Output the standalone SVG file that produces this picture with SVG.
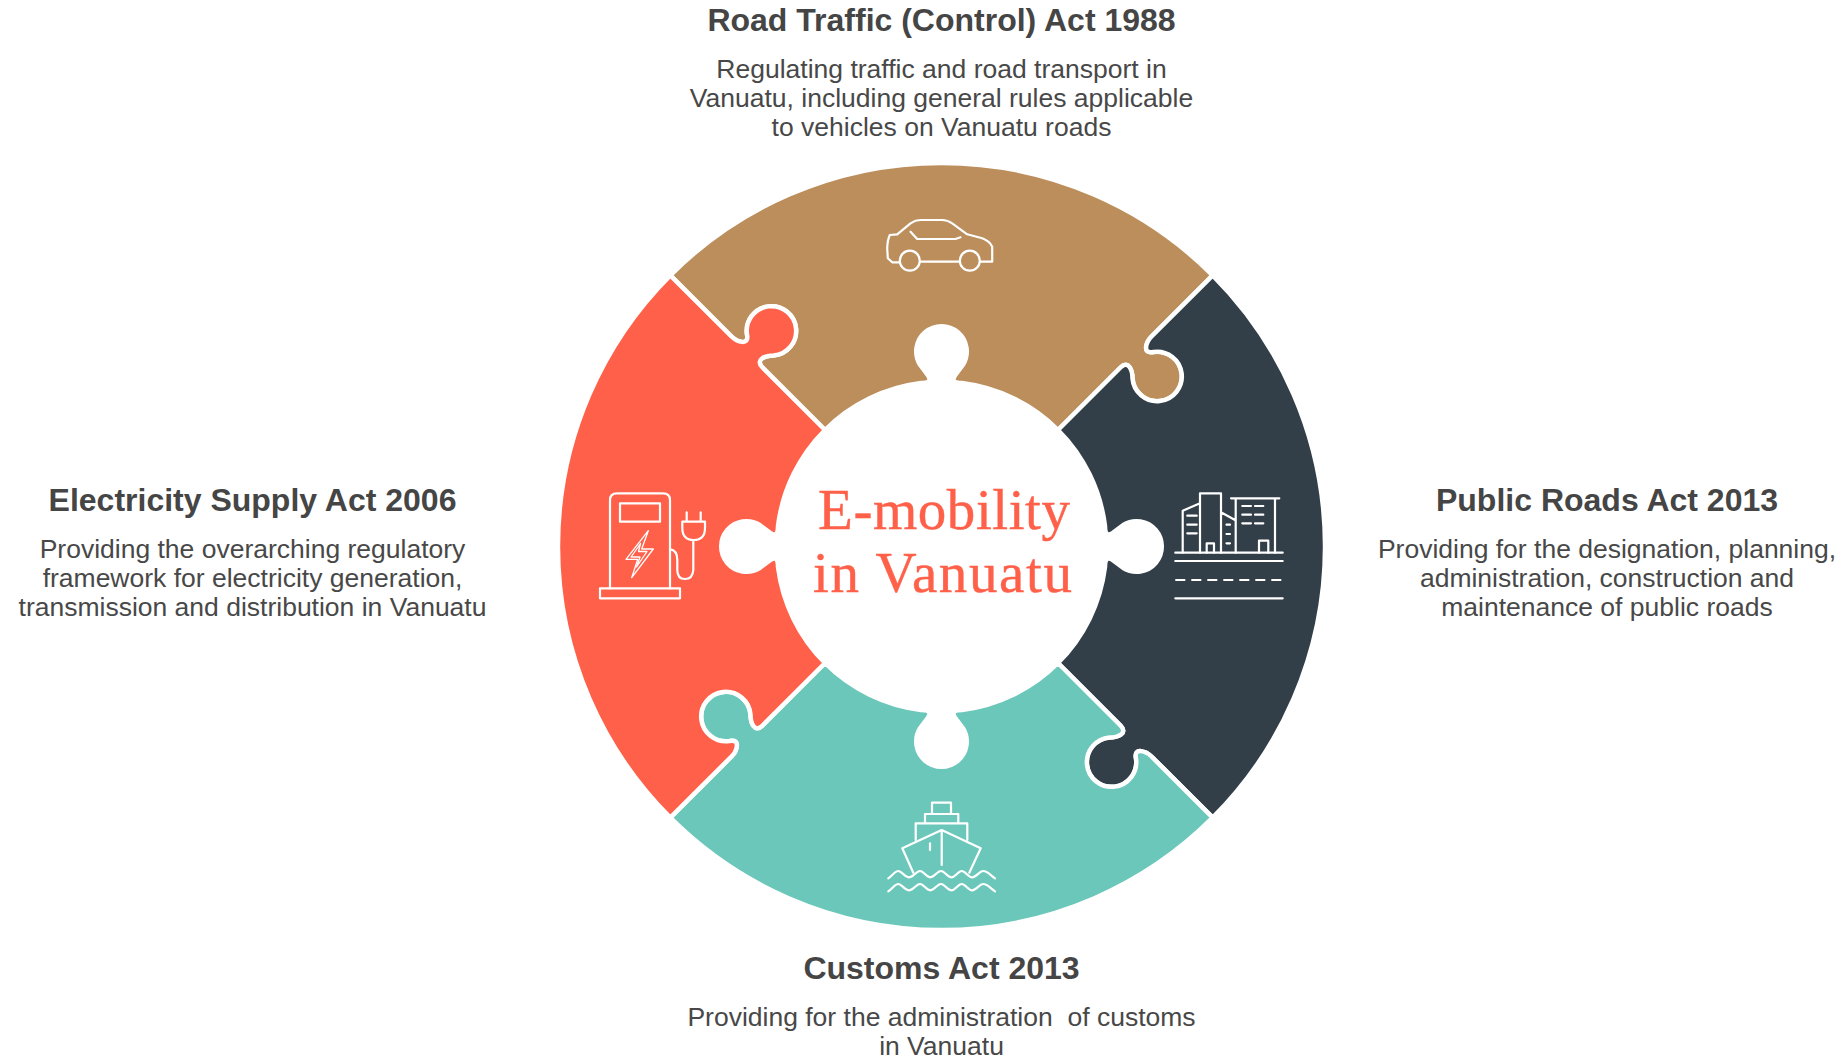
<svg xmlns="http://www.w3.org/2000/svg" xmlns:xlink="http://www.w3.org/1999/xlink" width="1842" height="1057" viewBox="0 0 1842 1057">
<style>
.piece{stroke:#fff;stroke-width:4.5;stroke-linejoin:round}
.ic{fill:none;stroke:#fff;stroke-width:2.2;stroke-linejoin:round;stroke-linecap:round}
.thin{stroke-width:1.3}
.t{font-family:"Liberation Sans",Arial,sans-serif;font-weight:700;font-size:32px;fill:#454545;text-anchor:middle}
.d{font-family:"Liberation Sans",Arial,sans-serif;font-size:26.5px;fill:#484848;text-anchor:middle;white-space:pre}
.c{font-family:"Liberation Serif","Times New Roman",serif;font-size:57px;fill:#FF6049;stroke:#FF6049;stroke-width:.4;text-anchor:middle}
</style>
<defs>
<path id="piece" d="M-271.2 -271.2A383.5 383.5 0 0 1 271.2 -271.2L210 -210C205 -205 200 -192 212 -194.5A24.7 24.7 0 1 1 191 -168C191 -176 187 -187 179 -179L116.5 -116.5A164.75 164.75 0 0 0 20.5 -163.5C14 -163.5 9.5 -165 13.5 -171L21.5 -181.8A25.25 25.25 0 1 0 -21.5 -181.8L-13.5 -171C-9.5 -165 -14 -163.5 -20.5 -163.5A164.75 164.75 0 0 0 -116.5 -116.5L-179 -179C-187 -187 -176 -191 -168 -191A24.7 24.7 0 1 0 -194.5 -212C-192 -200 -205 -205 -210 -210Z"/>
</defs>
<g id="node-road-traffic">
<use href="#piece" class="piece" fill="#BB8E5C" transform="translate(941.5 546.5)"/>
<g class="ic" transform="translate(.5 0)">
<path d="M899.3 262.3H891.7L887.3 258.3L886.7 248.3Q887 240 889.3 235L896.7 234.3L910 223.3Q915 220 920 220H941.7Q947 220 951.7 223.3L966.7 234.3L981.7 238.3Q989 241 991.7 246.7V261.7H980M920.7 261.7H958.3"/>
<circle cx="909.3" cy="260.7" r="10"/><circle cx="969.3" cy="260.7" r="10"/>
<path d="M910 231.7L916.7 239H955L960 237.3"/>
</g>
<text class="t" x="941.5" y="31">Road Traffic (Control) Act 1988</text>
<text class="d" x="941.5" y="78">Regulating traffic and road transport in</text>
<text class="d" x="941.5" y="106.5">Vanuatu, including general rules applicable</text>
<text class="d" x="941.5" y="135.5">to vehicles on Vanuatu roads</text>
</g>
<g id="node-public-roads">
<use href="#piece" class="piece" fill="#333F48" transform="translate(941.5 546.5) rotate(90)"/>
<g class="ic">
<path d="M1175.3 552.7H1282.7M1175.3 561H1282.7M1175.3 598.3H1282.7"/>
<path d="M1175.3 580H1282.7" stroke-dasharray="10 6" stroke-linecap="butt"/>
<path d="M1182.7 552.7V510.7L1200 503.3M1200 552.7V493.3H1221V552.7M1206.7 552.7V543.3H1214V552.7M1221 512.3L1235 520M1231 498.3H1279.3M1235.7 498.3V552.7M1275 498.3V552.7M1259 552.7V540.7H1268.3V552.7"/>
<path d="M1242.3 506H1251M1255 506H1263.3M1242.3 514.7H1251M1255 514.7H1263.3M1242.3 523.3H1251M1255 523.3H1263.3M1187.3 515.7H1196.7M1187.3 524.7H1196.7M1187.3 533.3H1196.7M1226.5 524.7H1230M1226.5 534H1230M1226.5 543.3H1230"/>
</g>
<text class="t" x="1607" y="511">Public Roads Act 2013</text>
<text class="d" x="1607" y="558">Providing for the designation, planning,</text>
<text class="d" x="1607" y="587">administration, construction and</text>
<text class="d" x="1607" y="616">maintenance of public roads</text>
</g>
<g id="node-customs">
<use href="#piece" class="piece" fill="#6BC7BA" transform="translate(941.5 546.5) rotate(180)"/>
<g class="ic">
<path d="M932 814V802.7H951V814M925 823.3V814H958.3V823.3M915.7 840V823.3H967.3V840"/>
<path d="M913.3 872.7L902.3 848.3L941.7 830L980.7 848.3L969.3 872.7M941.7 830V865M930 843.3V850"/>
<path id="wave" d="M888.3 878.3C893 875 895 871 898.3 871S905 877.3 909.3 877.3S916 871 920 871S926 877.3 930.3 877.3S937 871 941 871S947 877.3 951.3 877.3S958 871 961.7 871S968 877.3 972.3 877.3S979 871 983.3 871S990 875 995 878.3"/>
<use href="#wave" transform="translate(0 13)"/>
</g>
<text class="t" x="941.5" y="978.5">Customs Act 2013</text>
<text class="d" x="941.5" y="1026">Providing for the administration  of customs</text>
<text class="d" x="941.5" y="1054.5">in Vanuatu</text>
</g>
<g id="node-electricity">
<use href="#piece" class="piece" fill="#FF6049" transform="translate(941.5 546.5) rotate(270)"/>
<g class="ic">
<path d="M610 588.3V500Q610 493.3 617 493.3H663Q670 493.3 670 500V588.3"/>
<rect x="600" y="588.3" width="80" height="10"/>
<rect x="620" y="503.3" width="40" height="18.4"/>
<path class="thin" d="M648.3 530.7L626 559.3H637.7L631.7 577.7L653.3 549H641.7Z"/>
<path class="thin" d="M640.5 543.5L631 557H640L636.5 567L647 551.5H638.5Z"/>
<path d="M670 549.3Q677.3 550 677.3 560V570Q677.3 579 685 579T693.3 570V540M682.3 521.7H705V528Q705 540 693.7 540T682.3 528ZM686.7 512.3V521.7M700.7 512.3V521.7"/>
</g>
<text class="t" x="252.5" y="511">Electricity Supply Act 2006</text>
<text class="d" x="252.5" y="558">Providing the overarching regulatory</text>
<text class="d" x="252.5" y="587">framework for electricity generation,</text>
<text class="d" x="252.5" y="616">transmission and distribution in Vanuatu</text>
</g>
<g id="node-center">
<text class="c" x="944" y="528.5" textLength="252">E-mobility</text>
<text class="c" x="942.5" y="591.5" textLength="259">in Vanuatu</text>
</g>
</svg>
